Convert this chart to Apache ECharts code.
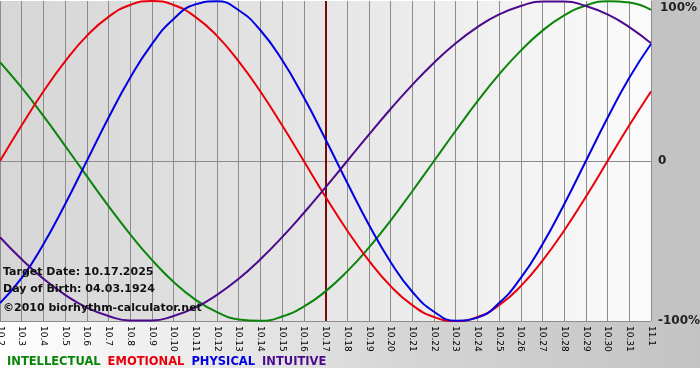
<!DOCTYPE html>
<html>
<head>
<meta charset="utf-8">
<script src="https://cdn.jsdelivr.net/npm/echarts@6/dist/echarts.min.js"></script>
<style>
  html, body { margin: 0; padding: 0; background: #ffffff; }
  #chart { width: 700px; height: 380px; }
</style>
</head>
<body>
<div id="chart"></div>
<script>
// Day labels along the x axis
var days = ['10.2','10.3','10.4','10.5','10.6','10.7','10.8','10.9','10.10','10.11','10.12','10.13','10.14','10.15','10.16','10.17','10.18','10.19','10.20','10.21','10.22','10.23','10.24','10.25','10.26','10.27','10.28','10.29','10.30','10.31','11.1'];

// Series values in percent
var intellectual = [61.8, 45.8, 28.2, 9.5, -9.5, -28.2, -45.8, -61.8, -75.6, -86.6, -94.5, -99.0, -99.9, -97.2, -91.0, -81.5, -69.0, -54.1, -37.2, -18.9, 0, 18.9, 37.2, 54.1, 69.0, 81.5, 91.0, 97.2, 99.9, 99.0, 94.5];
var emotional = [0, 22.3, 43.4, 62.3, 78.2, 90.1, 97.5, 100, 97.5, 90.1, 78.2, 62.3, 43.4, 22.3, 0, -22.3, -43.4, -62.3, -78.2, -90.1, -97.5, -100, -97.5, -90.1, -78.2, -62.3, -43.4, -22.3, 0, 22.3, 43.4];
var physical = [-88.8, -73.1, -52.0, -27.0, 0, 27.0, 52.0, 73.1, 88.8, 97.9, 99.8, 94.2, 81.7, 63.1, 39.8, 13.6, -13.6, -39.8, -63.1, -81.7, -94.2, -99.8, -97.9, -88.8, -73.1, -52.0, -27.0, 0, 27.0, 52.0, 73.1];
var intuitive = [-47.6, -61.4, -73.6, -83.7, -91.6, -96.9, -99.7, -99.7, -96.9, -91.6, -83.7, -73.6, -61.4, -47.6, -32.5, -16.5, 0, 16.5, 32.5, 47.6, 61.4, 73.6, 83.7, 91.6, 96.9, 99.7, 99.7, 96.9, 91.6, 83.7, 73.6];

var targetDay = '10.17';
var seriesNames = ['INTELLECTUAL', 'EMOTIONAL', 'PHYSICAL', 'INTUITIVE'];
var infoLines = ['Target Date: 10.17.2025', 'Day of Birth: 04.03.1924', '\u00A92010 biorhythm-calculator.net'];

var colors = { INTELLECTUAL: '#0a850a', EMOTIONAL: '#e8000c', PHYSICAL: '#0000e0', INTUITIVE: '#4b0a8c' };
var FONT = 'DejaVu Sans, Verdana, sans-serif';

var chart = echarts.init(document.getElementById('chart'), null, { renderer: 'canvas' });

function lineSeries(name, data, extra) {
  var s = {
    name: name,
    type: 'line',
    data: data,
    smooth: true,
    showSymbol: false,
    symbol: 'none',
    lineStyle: { color: colors[name], width: 2 },
    itemStyle: { color: colors[name] },
    z: 3
  };
  if (extra) { for (var k in extra) s[k] = extra[k]; }
  return s;
}

var option = {
  animation: false,
  backgroundColor: '#ffffff',
  textStyle: { fontFamily: FONT },
  grid: {
    left: 0, right: 49, top: 1, bottom: 59,
    containLabel: false,
    outerBoundsMode: 'none',
    show: true,
    borderWidth: 0,
    backgroundColor: new echarts.graphic.LinearGradient(0, 0, 1, 0, [
      { offset: 0, color: '#d6d6d6' },
      { offset: 0.5, color: '#e6e6e6' },
      { offset: 1, color: '#fbfbfb' }
    ])
  },
  graphic: [
    { type: 'rect', z: -10, shape: { x: 651, y: 0, width: 49, height: 321 }, style: { fill: '#c3c3c3' } },
    { type: 'rect', z: -10, shape: { x: 0, y: 321, width: 700, height: 47 },
      style: { fill: new echarts.graphic.LinearGradient(0, 0, 1, 0, [
        { offset: 0, color: '#ffffff' },
        { offset: 0.6, color: '#d4d4d4' },
        { offset: 1, color: '#c3c3c3' }
      ]) } },
    { type: 'text', left: 3, top: 267, z: 10, style: { text: infoLines[0], font: 'bold 11px ' + FONT, fill: '#111111' } },
    { type: 'text', left: 3, top: 284, z: 10, style: { text: infoLines[1], font: 'bold 11px ' + FONT, fill: '#111111' } },
    { type: 'text', left: 3, top: 303, z: 10, style: { text: infoLines[2], font: 'bold 11px ' + FONT, fill: '#111111' } }
  ],
  legend: {
    left: 2, top: 356,
    padding: 0,
    icon: 'none',
    itemWidth: 0, itemHeight: 0, itemGap: 2,
    selectedMode: false,
    data: seriesNames.map(function (n) {
      return { name: n, textStyle: { color: colors[n], fontWeight: 'bold', fontSize: 11.5, fontFamily: FONT } };
    })
  },
  xAxis: {
    type: 'category',
    data: days,
    boundaryGap: false,
    axisLine: { show: true, lineStyle: { color: '#8c8c8c', width: 1 } },
    axisTick: { show: true, length: 4, alignWithLabel: true, lineStyle: { color: '#8c8c8c' } },
    axisLabel: { rotate: -90, interval: 0, margin: 5, fontSize: 9, color: '#000000', fontFamily: FONT, hideOverlap: false },
    splitLine: { show: true, lineStyle: { color: '#8c8c8c', width: 1 } }
  },
  yAxis: {
    type: 'value',
    position: 'right',
    min: -100, max: 100, interval: 100,
    axisLine: { show: false },
    axisTick: { show: false },
    splitLine: { show: true, lineStyle: { color: ['#8c8c8c', '#8c8c8c', 'rgba(0,0,0,0)'], width: 1 } },
    axisLabel: {
      margin: 7,
      formatter: function (v) {
        if (v === 100) return '{top|100%}';
        if (v === -100) return '{n|-100%}';
        return '{n|0}';
      },
      rich: {
        top: { fontWeight: 'bold', fontSize: 12, color: '#222222', fontFamily: FONT, padding: [14, 0, 0, 2] },
        n: { fontWeight: 'bold', fontSize: 12, color: '#222222', fontFamily: FONT }
      }
    }
  },
  series: [
    lineSeries('INTELLECTUAL', intellectual),
    lineSeries('EMOTIONAL', emotional),
    lineSeries('PHYSICAL', physical),
    lineSeries('INTUITIVE', intuitive, {
      markLine: {
        silent: true,
        symbol: ['none', 'none'],
        label: { show: false },
        lineStyle: { color: '#7a0a0a', width: 2, type: 'solid' },
        data: [{ xAxis: targetDay }],
        z: 2
      }
    })
  ]
};

chart.setOption(option);
</script>
</body>
</html>
